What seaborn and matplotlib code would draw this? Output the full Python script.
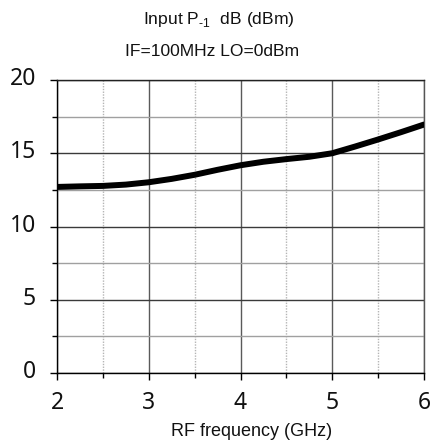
import numpy as np
import pandas as pd
import matplotlib
matplotlib.use("Agg")
import matplotlib.pyplot as plt
import matplotlib.transforms as mtransforms
import seaborn as sns
from matplotlib.ticker import MultipleLocator

freq_ghz = [2.0, 2.25, 2.5, 2.75, 3.0, 3.25, 3.5, 3.75, 4.0, 4.25, 4.5, 4.75, 5.0, 5.25, 5.5, 5.75, 6.0]
p1db_dbm = [12.70, 12.74, 12.77, 12.86, 13.02, 13.25, 13.53, 13.87, 14.18, 14.42, 14.60, 14.76, 15.00, 15.46, 15.94, 16.44, 16.96]

title_line1 = r"Input P$_{\text{-1}}$  dB (dBm)"
title_line2 = "IF=100MHz LO=0dBm"
x_label = "RF frequency (GHz)"
x_ticks = [2, 3, 4, 5, 6]
y_ticks = [0, 5, 10, 15, 20]

df = pd.DataFrame({"freq": freq_ghz, "p1db": p1db_dbm})

sns.set_style("white")
plt.rcParams["mathtext.fontset"] = "custom"
plt.rcParams["mathtext.rm"] = "Liberation Sans"

W, H = 434, 445
fig = plt.figure(figsize=(W / 100, H / 100), dpi=100)
ax = fig.add_axes([57 / W, (H - 373) / H, 367 / W, 293 / H])

sns.lineplot(data=df, x="freq", y="p1db", ax=ax, color="black", linewidth=4.3,
             solid_capstyle="round", solid_joinstyle="round", zorder=5)

ax.set_xlim(2, 6)
ax.set_ylim(0, 20)
ax.xaxis.set_minor_locator(MultipleLocator(0.5))
ax.yaxis.set_minor_locator(MultipleLocator(2.5))
ax.set_xticks(x_ticks)
ax.set_yticks(y_ticks)

ax.grid(which="major", axis="y", color="#3a3a3a", linewidth=1.0, linestyle="-")
ax.grid(which="minor", axis="y", color="#a0a0a0", linewidth=1.0, linestyle="-")
ax.grid(which="major", axis="x", color="#5a5a5a", linewidth=1.0, linestyle="-")
ax.grid(which="minor", axis="x", color="#b5b5b5", linewidth=1.0, linestyle=(0, (1, 1)))

for s in ax.spines.values():
    s.set_linewidth(1.0)
ax.spines["left"].set_color("black")
ax.spines["bottom"].set_color("black")
ax.spines["top"].set_color("#222222")
ax.spines["right"].set_color("#555555")

ax.tick_params(which="major", direction="out", length=5, width=1, color="black",
               labelsize=16.5, labelcolor="#111111", bottom=True, left=True)
ax.tick_params(which="minor", direction="out", length=3.6, width=1, color="black",
               bottom=True, left=True)
ax.tick_params(axis="x", which="major", pad=8)
ax.tick_params(axis="y", which="major", pad=10)
up = mtransforms.ScaledTranslation(0, 4 / 100, fig.dpi_scale_trans)
for lab in ax.get_xticklabels() + ax.get_yticklabels():
    lab.set_fontfamily("Noto Sans")
for lab in ax.get_yticklabels():
    lab.set_transform(lab.get_transform() + up)

ax.set_xlabel("")
ax.set_ylabel("")

fig.text(251.5 / W, 1 - 436 / H, x_label, ha="center", va="baseline", fontsize=13,
         family="Liberation Sans", color="#111111")
fig.text(218.5 / W, 1 - 24 / H, title_line1, ha="center", va="baseline", fontsize=12.6,
         family="Liberation Sans", color="#111111")
fig.text(212.5 / W, 1 - 56 / H, title_line2, ha="center", va="baseline", fontsize=12.6,
         family="Liberation Sans", color="#111111")

fig.savefig("out.png", dpi=100)
